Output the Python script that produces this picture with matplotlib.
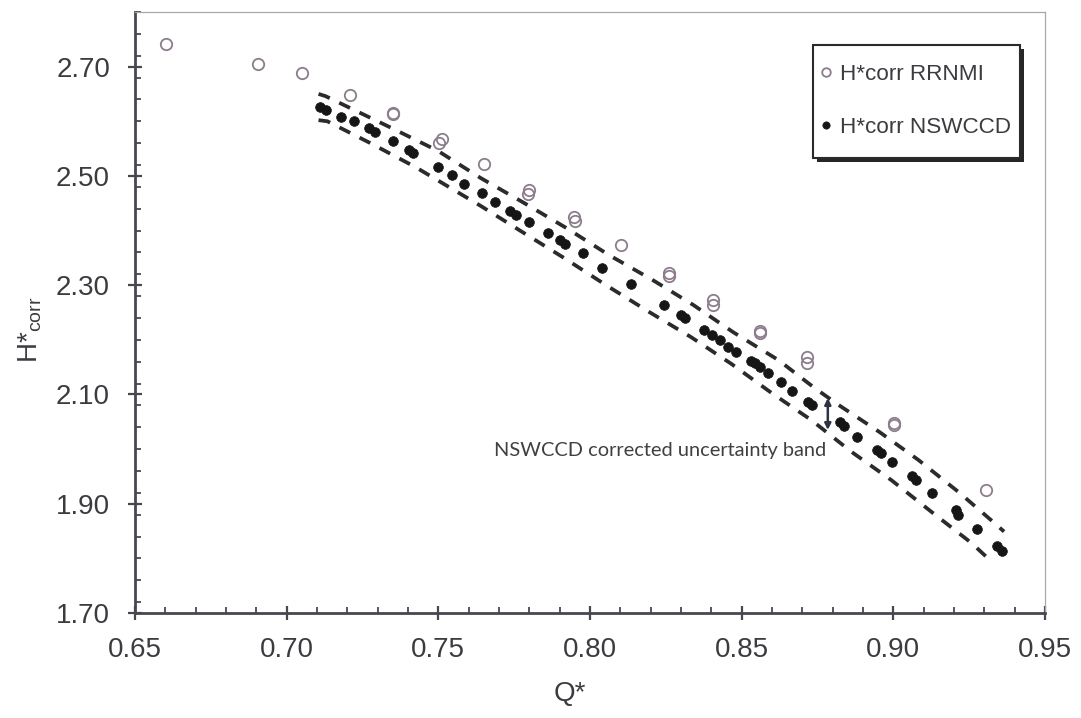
import matplotlib
matplotlib.use("Agg")
import matplotlib.pyplot as plt
from matplotlib.patches import Rectangle
from matplotlib.ticker import MultipleLocator, FormatStrFormatter

# RRNMI corrected head coefficient vs flow coefficient
rrnmi_q = [0.6602, 0.6905, 0.7052, 0.7210, 0.7350, 0.7352, 0.7511, 0.7503,
           0.7651, 0.7799, 0.7794, 0.7948, 0.7952, 0.8102, 0.8259, 0.8259,
           0.8407, 0.8407, 0.8562, 0.8562, 0.8717, 0.8715, 0.9003, 0.9001,
           0.9305]
rrnmi_h = [2.741, 2.705, 2.688, 2.648, 2.616, 2.613, 2.567, 2.561,
           2.521, 2.474, 2.467, 2.424, 2.417, 2.373, 2.322, 2.316,
           2.272, 2.264, 2.217, 2.213, 2.168, 2.158, 2.048, 2.045,
           1.926]

# NSWCCD corrected head coefficient vs flow coefficient
nswccd_q = [0.7111, 0.7128, 0.7180, 0.7223, 0.7273, 0.7290, 0.7350, 0.7402,
            0.7415, 0.7498, 0.7544, 0.7583, 0.7643, 0.7688, 0.7737, 0.7755,
            0.7799, 0.7860, 0.7902, 0.7917, 0.7976, 0.8041, 0.8135, 0.8244,
            0.8300, 0.8314, 0.8376, 0.8403, 0.8429, 0.8455, 0.8482, 0.8532,
            0.8543, 0.8559, 0.8588, 0.8631, 0.8666, 0.8720, 0.8733, 0.8824,
            0.8837, 0.8880, 0.8946, 0.8958, 0.8997, 0.9060, 0.9074, 0.9129,
            0.9206, 0.9214, 0.9276, 0.9341, 0.9358]
nswccd_h = [2.627, 2.621, 2.608, 2.601, 2.587, 2.581, 2.563, 2.547,
            2.542, 2.517, 2.501, 2.486, 2.468, 2.452, 2.436, 2.428,
            2.415, 2.396, 2.383, 2.376, 2.358, 2.331, 2.302, 2.264,
            2.246, 2.240, 2.218, 2.208, 2.199, 2.187, 2.178, 2.162,
            2.158, 2.151, 2.140, 2.122, 2.107, 2.087, 2.081, 2.050,
            2.042, 2.022, 1.998, 1.992, 1.976, 1.951, 1.944, 1.920,
            1.888, 1.880, 1.854, 1.823, 1.813]

# NSWCCD uncertainty band limits
band_upper_q = [0.7105, 0.7128, 0.7352, 0.7498, 0.7640, 0.7778, 0.7921, 0.8063,
                0.8208, 0.8340, 0.8472, 0.8621, 0.8740, 0.8819, 0.8955, 0.9083,
                0.9216, 0.9341, 0.9365]
band_upper_h = [2.650, 2.646, 2.586, 2.546, 2.496, 2.452, 2.405, 2.355,
                2.309, 2.264, 2.214, 2.163, 2.112, 2.081, 2.031, 1.980,
                1.921, 1.861, 1.849]
band_lower_q = [0.7105, 0.7134, 0.7276, 0.7425, 0.7640, 0.7772, 0.7914, 0.8053,
                0.8195, 0.8333, 0.8466, 0.8598, 0.8730, 0.8862, 0.8994, 0.9126,
                0.9258, 0.9318]
band_lower_h = [2.602, 2.600, 2.560, 2.516, 2.445, 2.399, 2.350, 2.300,
                2.251, 2.205, 2.156, 2.103, 2.053, 1.995, 1.943, 1.885,
                1.828, 1.797]

x_ticks = [0.65, 0.70, 0.75, 0.80, 0.85, 0.90, 0.95]
y_ticks = [1.70, 1.90, 2.10, 2.30, 2.50, 2.70]

band_note = "NSWCCD corrected uncertainty band"
band_arrow_q = 0.8784
band_arrow_top = 2.0935
band_arrow_bottom = 2.035

plt.rcParams['font.family'] = ['Liberation Sans', 'DejaVu Sans']

fig = plt.figure(figsize=(10.81, 7.18), dpi=100)
ax = fig.add_axes([0.1249, 0.1462, 0.8418, 0.8371])

txt_color = '#3d3b40'
axis_color = '#4a4650'
open_color = '#8c7c8c'
fill_color = '#161616'
dash_color = '#2b2b2b'

# Uncertainty band
for bq, bh in ((band_upper_q, band_upper_h), (band_lower_q, band_lower_h)):
    ax.plot(bq, bh, color=dash_color, lw=2.7, linestyle=(0, (3.2, 2.8)),
            dash_capstyle='butt', zorder=2)

ax.plot(rrnmi_q, rrnmi_h, linestyle='none', marker='o', ms=8.2,
        mfc='none', mec=open_color, mew=1.3, zorder=3, label='H*corr RRNMI')
ax.plot(nswccd_q, nswccd_h, linestyle='none', marker='o', ms=7.0,
        mfc=fill_color, mec=fill_color, mew=0.5, zorder=4,
        label='H*corr NSWCCD')

# Band annotation
ax.annotate('', xy=(band_arrow_q, band_arrow_top),
            xytext=(band_arrow_q, band_arrow_bottom),
            arrowprops=dict(arrowstyle='<|-|>', color='#2b3440', lw=1.8,
                            mutation_scale=9, shrinkA=0, shrinkB=0),
            zorder=5)
ax.text(0.7683, 1.998, band_note, family=['Lato', 'DejaVu Sans'],
        fontsize=14.4, color='#404040', ha='left', va='center', zorder=5)

ax.set_xlim(0.65, 0.95)
ax.set_ylim(1.70, 2.80)
ax.set_xticks(x_ticks)
ax.set_yticks(y_ticks)
ax.xaxis.set_major_formatter(FormatStrFormatter('%.2f'))
ax.yaxis.set_major_formatter(FormatStrFormatter('%.2f'))
ax.xaxis.set_minor_locator(MultipleLocator(0.01))
ax.yaxis.set_minor_locator(MultipleLocator(0.04))

ax.tick_params(which='major', direction='inout', length=10, width=1.6,
               color=axis_color, labelsize=20, labelcolor=txt_color)
ax.tick_params(axis='x', which='major', pad=12)
ax.tick_params(axis='y', which='major', pad=13)
ax.tick_params(which='minor', direction='in', length=4.5, width=1.3,
               color=axis_color)
ax.tick_params(top=False, right=False, which='both')

for side in ('left', 'bottom'):
    ax.spines[side].set_color(axis_color)
    ax.spines[side].set_linewidth(2.0)
for side in ('top', 'right'):
    ax.spines[side].set_color('#a8a8a8')
    ax.spines[side].set_linewidth(0.9)

ax.set_xlabel('Q*', fontsize=20, color=txt_color)
ax.xaxis.set_label_coords(0.478, -0.113)
ax.set_ylabel('H*$_{\\mathregular{corr}}$', fontsize=20, color=txt_color)
ax.yaxis.set_label_coords(-0.100, 0.471)

# Legend box with a solid drop shadow
bx0, by0, bw, bh = 0.7451, 0.757, 0.2275, 0.188
sx, sy = 3.5 / 910, 3.5 / 601
ax.add_patch(Rectangle((bx0 + sx, by0 - sy), bw, bh, transform=ax.transAxes,
                       facecolor='#262626', edgecolor='none', zorder=6,
                       clip_on=False))
ax.add_patch(Rectangle((bx0, by0), bw, bh, transform=ax.transAxes,
                       facecolor='white', edgecolor='#2a2a2a', lw=1.5,
                       zorder=6.5, clip_on=False))

leg = ax.legend(loc='upper left', bbox_to_anchor=(0.7516, 0.914),
                borderaxespad=0, borderpad=0, fontsize=16.2, frameon=False,
                handlelength=0.6, handletextpad=0.35, labelspacing=1.43,
                markerscale=0.75)
leg.set_zorder(7)
for t in leg.get_texts():
    t.set_color(txt_color)

fig.savefig('out.png', dpi=100)
